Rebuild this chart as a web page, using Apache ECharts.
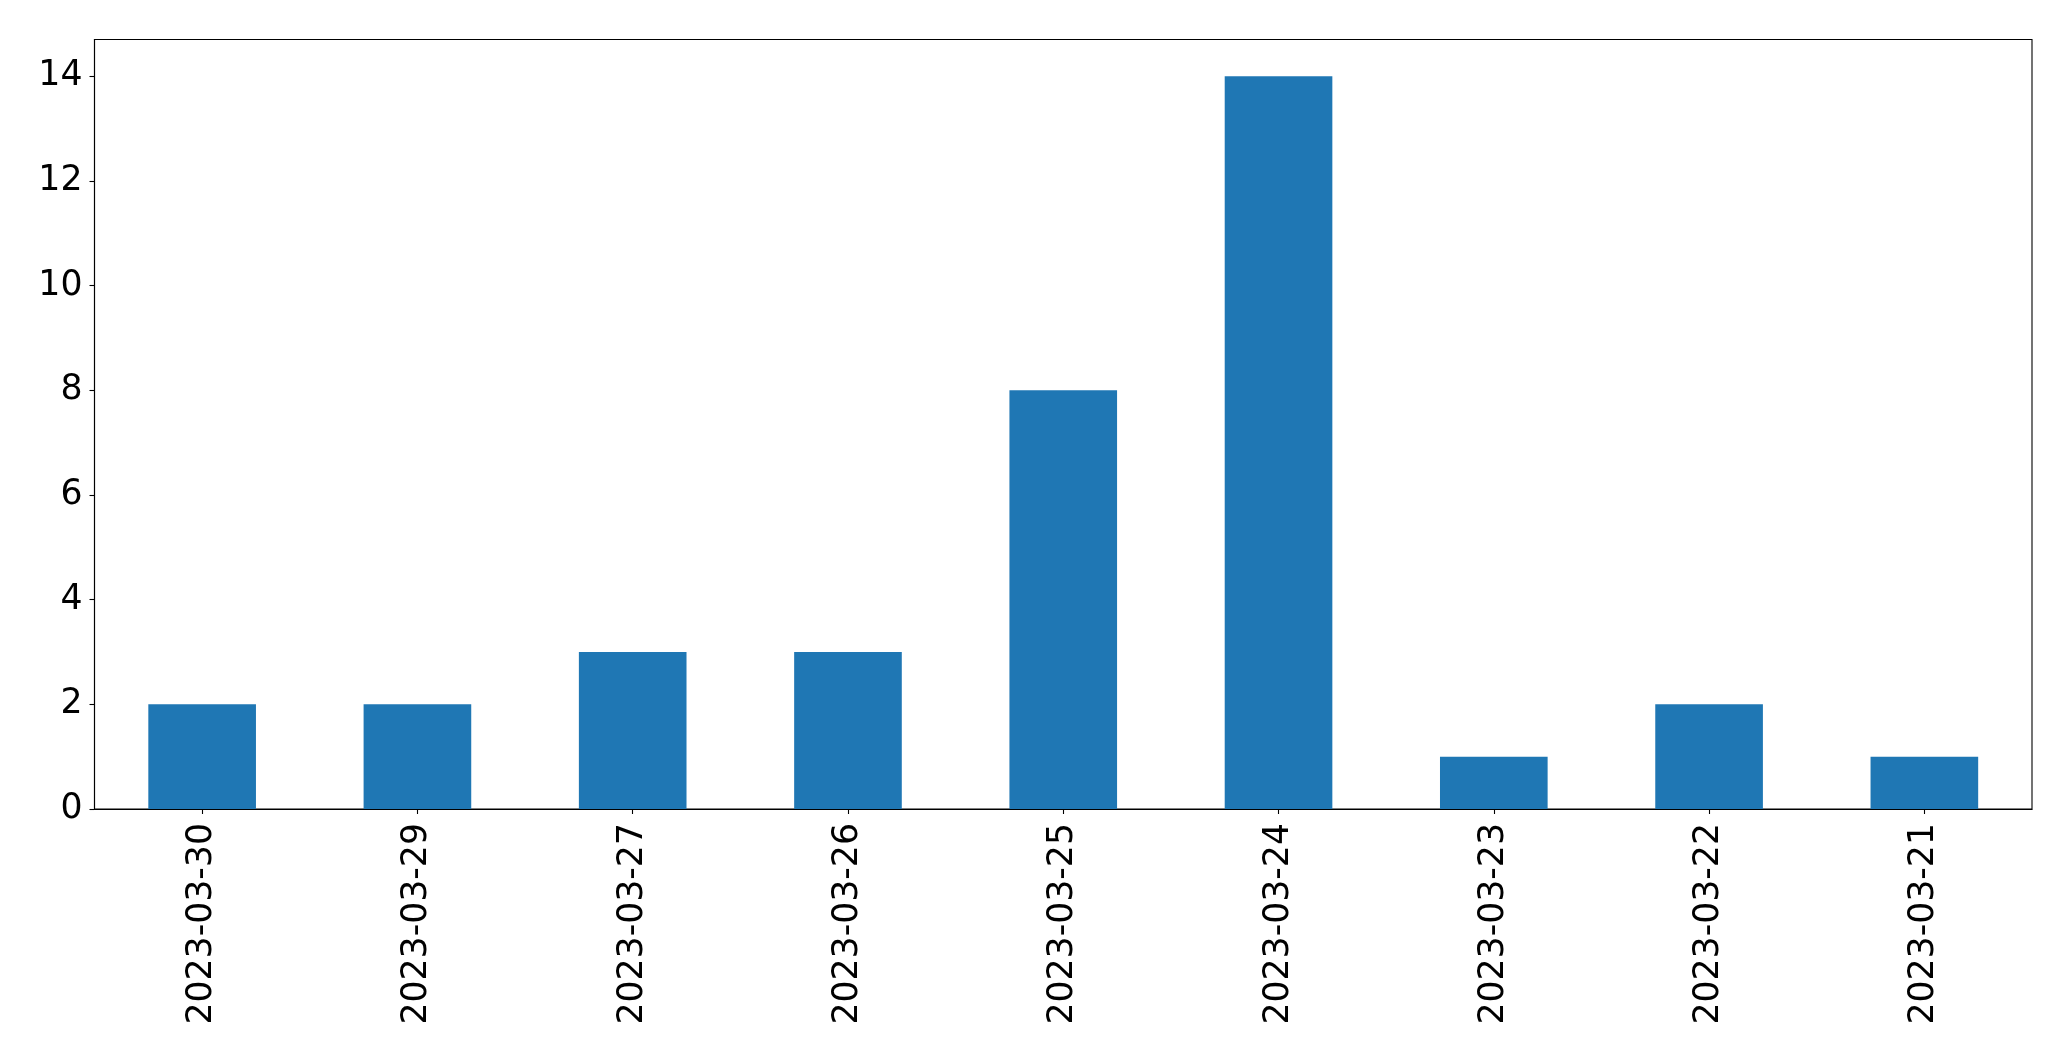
<!DOCTYPE html>
<html>
<head>
<meta charset="utf-8">
<script src="https://cdn.jsdelivr.net/npm/echarts@6/dist/echarts.min.js"></script>
<style>
html,body{margin:0;padding:0;background:#fff;}
#chart{width:2071px;height:1061px;}
</style>
</head>
<body>
<div id="chart"></div>
<script>
const categories = ['2023-03-30','2023-03-29','2023-03-27','2023-03-26','2023-03-25','2023-03-24','2023-03-23','2023-03-22','2023-03-21'];
const counts = [2, 2, 3, 3, 8, 14, 1, 2, 1];
const yTicks = [0, 2, 4, 6, 8, 10, 12, 14];

const FONT = 'DejaVu Sans';
const chart = echarts.init(document.getElementById('chart'), null, {renderer: 'canvas'});
chart.setOption({
  animation: false,
  backgroundColor: '#ffffff',
  grid: {
    left: 94.5, right: 39, top: 39.5, bottom: 252,
    show: true, borderColor: '#000000', borderWidth: 1.1, backgroundColor: 'transparent'
  },
  xAxis: {
    type: 'category',
    data: categories,
    boundaryGap: true,
    axisLine: {show: true, lineStyle: {color: '#000000', width: 1.1}},
    axisTick: {show: true, alignWithLabel: true, length: 5, lineStyle: {color: '#000000', width: 1.1}},
    axisLabel: {rotate: 90, margin: 14, color: '#000000', fontSize: 34.7, fontFamily: FONT, interval: 0},
    splitLine: {show: false}
  },
  yAxis: {
    type: 'value',
    min: 0,
    max: 14.7,
    interval: 2,
    axisLine: {show: true, lineStyle: {color: '#000000', width: 1.1}},
    axisTick: {show: true, length: 5, lineStyle: {color: '#000000', width: 1.1}, customValues: yTicks},
    axisLabel: {margin: 12, color: '#000000', fontSize: 34.7, fontFamily: FONT, customValues: yTicks},
    splitLine: {show: false}
  },
  series: [{
    type: 'bar',
    data: counts,
    barWidth: '50%',
    itemStyle: {color: '#1f77b4'}
  }]
});
</script>
</body>
</html>
